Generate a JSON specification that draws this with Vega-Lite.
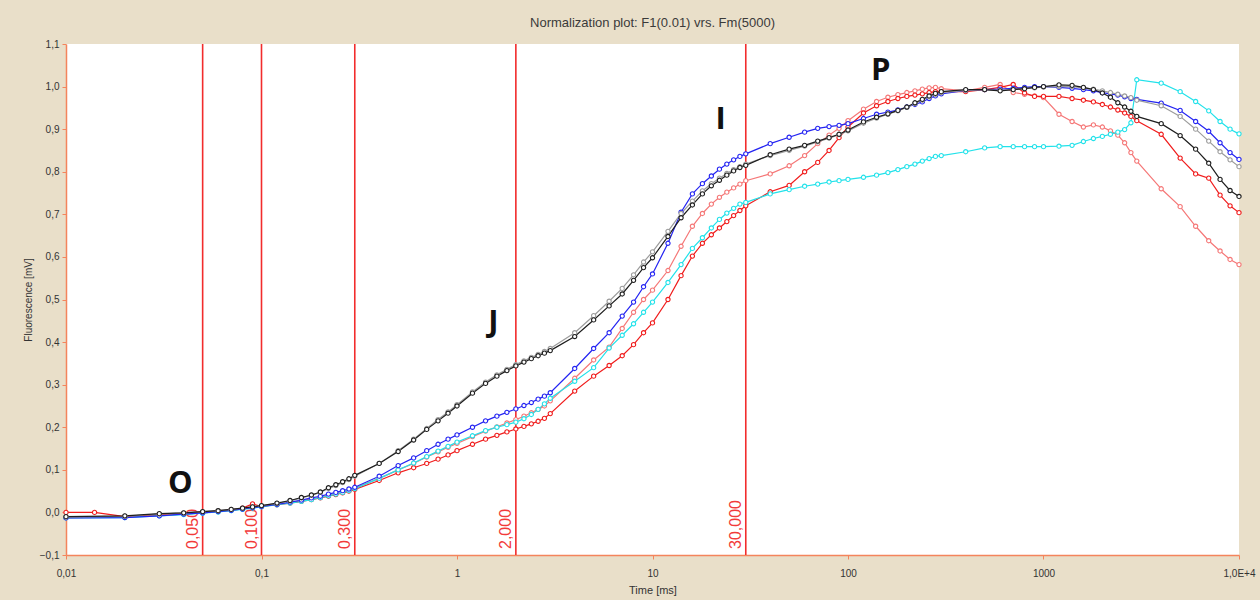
{
  "$schema": "https://vega.github.io/schema/vega-lite/v6.json",
  "width": 1173,
  "height": 511,
  "autosize": {"type": "none"},
  "padding": {"left": 66, "top": 44, "right": 21, "bottom": 45},
  "background": "#E9DFC9",
  "config": {
    "view": {"fill": "white", "stroke": null},
    "font": "Liberation Sans"
  },
  "title": {
    "text": "Normalization plot: F1(0.01) vrs. Fm(5000)",
    "fontSize": 13,
    "fontWeight": "normal",
    "color": "#3a3a3a",
    "offset": 9,
    "anchor": "middle"
  },
  "datasets": {
    "curves": [
{"id":"s","t":0.01,"v":-0.012},{"id":"s","t":0.02,"v":-0.011},{"id":"s","t":0.03,"v":-0.007},{"id":"s","t":0.04,"v":-0.004},{"id":"s","t":0.05,"v":-0.001},{"id":"s","t":0.06,"v":0.002},{"id":"s","t":0.07,"v":0.005},{"id":"s","t":0.08,"v":0.008},{"id":"s","t":0.09,"v":0.011},{"id":"s","t":0.1,"v":0.014},{"id":"s","t":0.12,"v":0.019},{"id":"s","t":0.14,"v":0.023},{"id":"s","t":0.16,"v":0.027},{"id":"s","t":0.18,"v":0.031},{"id":"s","t":0.2,"v":0.036},{"id":"s","t":0.22,"v":0.04},{"id":"s","t":0.24,"v":0.044},{"id":"s","t":0.26,"v":0.048},{"id":"s","t":0.28,"v":0.052},{"id":"s","t":0.3,"v":0.057},
{"id":"s","t":0.4,"v":0.08},{"id":"s","t":0.5,"v":0.1},{"id":"s","t":0.6,"v":0.115},{"id":"s","t":0.7,"v":0.13},{"id":"s","t":0.8,"v":0.142},{"id":"s","t":0.9,"v":0.153},{"id":"s","t":1,"v":0.162},{"id":"s","t":1.2,"v":0.178},{"id":"s","t":1.4,"v":0.191},{"id":"s","t":1.6,"v":0.201},{"id":"s","t":1.8,"v":0.21},{"id":"s","t":2,"v":0.218},{"id":"s","t":2.2,"v":0.226},{"id":"s","t":2.4,"v":0.234},{"id":"s","t":2.6,"v":0.242},{"id":"s","t":2.8,"v":0.25},{"id":"s","t":3,"v":0.262},
{"id":"s","t":4,"v":0.315},{"id":"s","t":5,"v":0.358},{"id":"s","t":6,"v":0.388},{"id":"s","t":7,"v":0.432},{"id":"s","t":8,"v":0.47},{"id":"s","t":9,"v":0.5},{"id":"s","t":10,"v":0.522},{"id":"s","t":12,"v":0.568},{"id":"s","t":14,"v":0.625},{"id":"s","t":16,"v":0.672},{"id":"s","t":18,"v":0.702},{"id":"s","t":20,"v":0.724},{"id":"s","t":22,"v":0.74},{"id":"s","t":24,"v":0.752},{"id":"s","t":26,"v":0.762},{"id":"s","t":28,"v":0.771},{"id":"s","t":30,"v":0.779},
{"id":"s","t":40,"v":0.795},{"id":"s","t":50,"v":0.814},{"id":"s","t":60,"v":0.838},{"id":"s","t":70,"v":0.866},{"id":"s","t":80,"v":0.886},{"id":"s","t":90,"v":0.902},{"id":"s","t":100,"v":0.92},{"id":"s","t":120,"v":0.947},{"id":"s","t":140,"v":0.965},{"id":"s","t":160,"v":0.975},{"id":"s","t":180,"v":0.981},{"id":"s","t":200,"v":0.986},{"id":"s","t":220,"v":0.99},{"id":"s","t":240,"v":0.994},{"id":"s","t":260,"v":0.997},{"id":"s","t":280,"v":0.998},{"id":"s","t":300,"v":0.995},
{"id":"s","t":400,"v":0.99},{"id":"s","t":500,"v":0.998},{"id":"s","t":600,"v":1.005},{"id":"s","t":700,"v":0.986},{"id":"s","t":800,"v":0.982},{"id":"s","t":900,"v":0.978},{"id":"s","t":1000,"v":0.974},{"id":"s","t":1200,"v":0.935},{"id":"s","t":1400,"v":0.918},{"id":"s","t":1600,"v":0.905},{"id":"s","t":1800,"v":0.91},{"id":"s","t":2000,"v":0.905},{"id":"s","t":2200,"v":0.896},{"id":"s","t":2400,"v":0.886},{"id":"s","t":2600,"v":0.868},{"id":"s","t":2800,"v":0.845},{"id":"s","t":3000,"v":0.825},
{"id":"s","t":4000,"v":0.76},{"id":"s","t":5000,"v":0.718},{"id":"s","t":6000,"v":0.672},{"id":"s","t":7000,"v":0.638},{"id":"s","t":8000,"v":0.614},{"id":"s","t":9000,"v":0.594},{"id":"s","t":10000,"v":0.582},

{"id":"r","t":0.01,"v":0.0},{"id":"r","t":0.014,"v":0.0},{"id":"r","t":0.02,"v":-0.01},{"id":"r","t":0.03,"v":-0.006},{"id":"r","t":0.04,"v":-0.003},{"id":"r","t":0.05,"v":0.0},{"id":"r","t":0.06,"v":0.003},{"id":"r","t":0.07,"v":0.006},{"id":"r","t":0.08,"v":0.01},{"id":"r","t":0.09,"v":0.02},{"id":"r","t":0.1,"v":0.014},{"id":"r","t":0.12,"v":0.018},{"id":"r","t":0.14,"v":0.022},{"id":"r","t":0.16,"v":0.026},{"id":"r","t":0.18,"v":0.03},{"id":"r","t":0.2,"v":0.034},{"id":"r","t":0.22,"v":0.038},{"id":"r","t":0.24,"v":0.042},{"id":"r","t":0.26,"v":0.046},{"id":"r","t":0.28,"v":0.05},{"id":"r","t":0.3,"v":0.054},
{"id":"r","t":0.4,"v":0.075},{"id":"r","t":0.5,"v":0.093},{"id":"r","t":0.6,"v":0.105},{"id":"r","t":0.7,"v":0.115},{"id":"r","t":0.8,"v":0.125},{"id":"r","t":0.9,"v":0.135},{"id":"r","t":1,"v":0.145},{"id":"r","t":1.2,"v":0.16},{"id":"r","t":1.4,"v":0.172},{"id":"r","t":1.6,"v":0.181},{"id":"r","t":1.8,"v":0.189},{"id":"r","t":2,"v":0.196},{"id":"r","t":2.2,"v":0.202},{"id":"r","t":2.4,"v":0.208},{"id":"r","t":2.6,"v":0.214},{"id":"r","t":2.8,"v":0.221},{"id":"r","t":3,"v":0.232},
{"id":"r","t":4,"v":0.285},{"id":"r","t":5,"v":0.32},{"id":"r","t":6,"v":0.345},{"id":"r","t":7,"v":0.368},{"id":"r","t":8,"v":0.394},{"id":"r","t":9,"v":0.422},{"id":"r","t":10,"v":0.445},{"id":"r","t":12,"v":0.5},{"id":"r","t":14,"v":0.556},{"id":"r","t":16,"v":0.602},{"id":"r","t":18,"v":0.632},{"id":"r","t":20,"v":0.652},{"id":"r","t":22,"v":0.668},{"id":"r","t":24,"v":0.683},{"id":"r","t":26,"v":0.697},{"id":"r","t":28,"v":0.709},{"id":"r","t":30,"v":0.72},
{"id":"r","t":40,"v":0.753},{"id":"r","t":50,"v":0.768},{"id":"r","t":60,"v":0.8},{"id":"r","t":70,"v":0.822},{"id":"r","t":80,"v":0.85},{"id":"r","t":90,"v":0.88},{"id":"r","t":100,"v":0.905},{"id":"r","t":120,"v":0.938},{"id":"r","t":140,"v":0.955},{"id":"r","t":160,"v":0.965},{"id":"r","t":180,"v":0.972},{"id":"r","t":200,"v":0.977},{"id":"r","t":220,"v":0.98},{"id":"r","t":240,"v":0.983},{"id":"r","t":260,"v":0.986},{"id":"r","t":280,"v":0.988},{"id":"r","t":300,"v":0.988},
{"id":"r","t":400,"v":0.988},{"id":"r","t":500,"v":0.993},{"id":"r","t":600,"v":0.998},{"id":"r","t":700,"v":1.005},{"id":"r","t":800,"v":0.985},{"id":"r","t":900,"v":0.977},{"id":"r","t":1000,"v":0.977},{"id":"r","t":1200,"v":0.977},{"id":"r","t":1400,"v":0.972},{"id":"r","t":1600,"v":0.968},{"id":"r","t":1800,"v":0.964},{"id":"r","t":2000,"v":0.958},{"id":"r","t":2200,"v":0.952},{"id":"r","t":2400,"v":0.945},{"id":"r","t":2600,"v":0.938},{"id":"r","t":2800,"v":0.93},{"id":"r","t":3000,"v":0.92},
{"id":"r","t":4000,"v":0.888},{"id":"r","t":5000,"v":0.832},{"id":"r","t":6000,"v":0.795},{"id":"r","t":7000,"v":0.785},{"id":"r","t":8000,"v":0.745},{"id":"r","t":9000,"v":0.72},{"id":"r","t":10000,"v":0.704},

{"id":"c","t":0.01,"v":-0.013},{"id":"c","t":0.02,"v":-0.012},{"id":"c","t":0.03,"v":-0.008},{"id":"c","t":0.04,"v":-0.005},{"id":"c","t":0.05,"v":-0.002},{"id":"c","t":0.06,"v":0.001},{"id":"c","t":0.07,"v":0.004},{"id":"c","t":0.08,"v":0.007},{"id":"c","t":0.09,"v":0.01},{"id":"c","t":0.1,"v":0.013},{"id":"c","t":0.12,"v":0.018},{"id":"c","t":0.14,"v":0.022},{"id":"c","t":0.16,"v":0.026},{"id":"c","t":0.18,"v":0.03},{"id":"c","t":0.2,"v":0.035},{"id":"c","t":0.22,"v":0.039},{"id":"c","t":0.24,"v":0.043},{"id":"c","t":0.26,"v":0.047},{"id":"c","t":0.28,"v":0.051},{"id":"c","t":0.3,"v":0.056},
{"id":"c","t":0.4,"v":0.08},{"id":"c","t":0.5,"v":0.1},{"id":"c","t":0.6,"v":0.116},{"id":"c","t":0.7,"v":0.131},{"id":"c","t":0.8,"v":0.144},{"id":"c","t":0.9,"v":0.155},{"id":"c","t":1,"v":0.165},{"id":"c","t":1.2,"v":0.18},{"id":"c","t":1.4,"v":0.192},{"id":"c","t":1.6,"v":0.2},{"id":"c","t":1.8,"v":0.206},{"id":"c","t":2,"v":0.212},{"id":"c","t":2.2,"v":0.22},{"id":"c","t":2.4,"v":0.23},{"id":"c","t":2.6,"v":0.242},{"id":"c","t":2.8,"v":0.255},{"id":"c","t":3,"v":0.268},
{"id":"c","t":4,"v":0.308},{"id":"c","t":5,"v":0.34},{"id":"c","t":6,"v":0.386},{"id":"c","t":7,"v":0.416},{"id":"c","t":8,"v":0.443},{"id":"c","t":9,"v":0.47},{"id":"c","t":10,"v":0.494},{"id":"c","t":12,"v":0.54},{"id":"c","t":14,"v":0.582},{"id":"c","t":16,"v":0.62},{"id":"c","t":18,"v":0.645},{"id":"c","t":20,"v":0.668},{"id":"c","t":22,"v":0.688},{"id":"c","t":24,"v":0.703},{"id":"c","t":26,"v":0.714},{"id":"c","t":28,"v":0.724},{"id":"c","t":30,"v":0.728},
{"id":"c","t":40,"v":0.748},{"id":"c","t":50,"v":0.758},{"id":"c","t":60,"v":0.766},{"id":"c","t":70,"v":0.771},{"id":"c","t":80,"v":0.776},{"id":"c","t":90,"v":0.779},{"id":"c","t":100,"v":0.782},{"id":"c","t":120,"v":0.787},{"id":"c","t":140,"v":0.792},{"id":"c","t":160,"v":0.798},{"id":"c","t":180,"v":0.805},{"id":"c","t":200,"v":0.812},{"id":"c","t":220,"v":0.818},{"id":"c","t":240,"v":0.825},{"id":"c","t":260,"v":0.831},{"id":"c","t":280,"v":0.836},{"id":"c","t":300,"v":0.838},
{"id":"c","t":400,"v":0.847},{"id":"c","t":500,"v":0.856},{"id":"c","t":600,"v":0.859},{"id":"c","t":700,"v":0.859},{"id":"c","t":800,"v":0.859},{"id":"c","t":900,"v":0.859},{"id":"c","t":1000,"v":0.859},{"id":"c","t":1200,"v":0.86},{"id":"c","t":1400,"v":0.862},{"id":"c","t":1600,"v":0.871},{"id":"c","t":1800,"v":0.878},{"id":"c","t":2000,"v":0.883},{"id":"c","t":2200,"v":0.888},{"id":"c","t":2400,"v":0.893},{"id":"c","t":2600,"v":0.899},{"id":"c","t":2800,"v":0.915},{"id":"c","t":3000,"v":1.016},
{"id":"c","t":4000,"v":1.008},{"id":"c","t":5000,"v":0.988},{"id":"c","t":6000,"v":0.965},{"id":"c","t":7000,"v":0.943},{"id":"c","t":8000,"v":0.918},{"id":"c","t":9000,"v":0.9},{"id":"c","t":10000,"v":0.889},

{"id":"b","t":0.01,"v":-0.013},{"id":"b","t":0.02,"v":-0.012},{"id":"b","t":0.03,"v":-0.008},{"id":"b","t":0.04,"v":-0.004},{"id":"b","t":0.05,"v":-0.001},{"id":"b","t":0.06,"v":0.002},{"id":"b","t":0.07,"v":0.005},{"id":"b","t":0.08,"v":0.008},{"id":"b","t":0.09,"v":0.011},{"id":"b","t":0.1,"v":0.014},{"id":"b","t":0.12,"v":0.019},{"id":"b","t":0.14,"v":0.024},{"id":"b","t":0.16,"v":0.029},{"id":"b","t":0.18,"v":0.034},{"id":"b","t":0.2,"v":0.038},{"id":"b","t":0.22,"v":0.043},{"id":"b","t":0.24,"v":0.047},{"id":"b","t":0.26,"v":0.051},{"id":"b","t":0.28,"v":0.055},{"id":"b","t":0.3,"v":0.059},
{"id":"b","t":0.4,"v":0.085},{"id":"b","t":0.5,"v":0.11},{"id":"b","t":0.6,"v":0.128},{"id":"b","t":0.7,"v":0.145},{"id":"b","t":0.8,"v":0.16},{"id":"b","t":0.9,"v":0.172},{"id":"b","t":1,"v":0.182},{"id":"b","t":1.2,"v":0.2},{"id":"b","t":1.4,"v":0.215},{"id":"b","t":1.6,"v":0.226},{"id":"b","t":1.8,"v":0.235},{"id":"b","t":2,"v":0.243},{"id":"b","t":2.2,"v":0.251},{"id":"b","t":2.4,"v":0.258},{"id":"b","t":2.6,"v":0.266},{"id":"b","t":2.8,"v":0.273},{"id":"b","t":3,"v":0.281},
{"id":"b","t":4,"v":0.338},{"id":"b","t":5,"v":0.385},{"id":"b","t":6,"v":0.422},{"id":"b","t":7,"v":0.461},{"id":"b","t":8,"v":0.494},{"id":"b","t":9,"v":0.53},{"id":"b","t":10,"v":0.56},{"id":"b","t":12,"v":0.632},{"id":"b","t":14,"v":0.705},{"id":"b","t":16,"v":0.748},{"id":"b","t":18,"v":0.772},{"id":"b","t":20,"v":0.79},{"id":"b","t":22,"v":0.806},{"id":"b","t":24,"v":0.818},{"id":"b","t":26,"v":0.828},{"id":"b","t":28,"v":0.836},{"id":"b","t":30,"v":0.842},
{"id":"b","t":40,"v":0.866},{"id":"b","t":50,"v":0.881},{"id":"b","t":60,"v":0.893},{"id":"b","t":70,"v":0.902},{"id":"b","t":80,"v":0.906},{"id":"b","t":90,"v":0.909},{"id":"b","t":100,"v":0.913},{"id":"b","t":120,"v":0.925},{"id":"b","t":140,"v":0.935},{"id":"b","t":160,"v":0.94},{"id":"b","t":180,"v":0.945},{"id":"b","t":200,"v":0.952},{"id":"b","t":220,"v":0.958},{"id":"b","t":240,"v":0.964},{"id":"b","t":260,"v":0.972},{"id":"b","t":280,"v":0.978},{"id":"b","t":300,"v":0.983},
{"id":"b","t":400,"v":0.991},{"id":"b","t":500,"v":0.993},{"id":"b","t":600,"v":0.994},{"id":"b","t":700,"v":0.996},{"id":"b","t":800,"v":0.998},{"id":"b","t":900,"v":1.0},{"id":"b","t":1000,"v":1.0},{"id":"b","t":1200,"v":0.998},{"id":"b","t":1400,"v":0.996},{"id":"b","t":1600,"v":0.993},{"id":"b","t":1800,"v":0.99},{"id":"b","t":2000,"v":0.986},{"id":"b","t":2200,"v":0.983},{"id":"b","t":2400,"v":0.98},{"id":"b","t":2600,"v":0.976},{"id":"b","t":2800,"v":0.972},{"id":"b","t":3000,"v":0.97},
{"id":"b","t":4000,"v":0.961},{"id":"b","t":5000,"v":0.944},{"id":"b","t":6000,"v":0.918},{"id":"b","t":7000,"v":0.895},{"id":"b","t":8000,"v":0.868},{"id":"b","t":9000,"v":0.845},{"id":"b","t":10000,"v":0.829},

{"id":"g","t":0.01,"v":-0.011},{"id":"g","t":0.02,"v":-0.009},{"id":"g","t":0.03,"v":-0.004},{"id":"g","t":0.04,"v":-0.001},{"id":"g","t":0.05,"v":0.002},{"id":"g","t":0.06,"v":0.004},{"id":"g","t":0.07,"v":0.007},{"id":"g","t":0.08,"v":0.01},{"id":"g","t":0.09,"v":0.013},{"id":"g","t":0.1,"v":0.016},{"id":"g","t":0.12,"v":0.021},{"id":"g","t":0.14,"v":0.027},{"id":"g","t":0.16,"v":0.034},{"id":"g","t":0.18,"v":0.04},{"id":"g","t":0.2,"v":0.047},{"id":"g","t":0.22,"v":0.056},{"id":"g","t":0.24,"v":0.063},{"id":"g","t":0.26,"v":0.07},{"id":"g","t":0.28,"v":0.077},{"id":"g","t":0.3,"v":0.085},
{"id":"g","t":0.4,"v":0.115},{"id":"g","t":0.5,"v":0.145},{"id":"g","t":0.6,"v":0.172},{"id":"g","t":0.7,"v":0.197},{"id":"g","t":0.8,"v":0.218},{"id":"g","t":0.9,"v":0.236},{"id":"g","t":1,"v":0.253},{"id":"g","t":1.2,"v":0.283},{"id":"g","t":1.4,"v":0.306},{"id":"g","t":1.6,"v":0.323},{"id":"g","t":1.8,"v":0.336},{"id":"g","t":2,"v":0.347},{"id":"g","t":2.2,"v":0.356},{"id":"g","t":2.4,"v":0.364},{"id":"g","t":2.6,"v":0.371},{"id":"g","t":2.8,"v":0.378},{"id":"g","t":3,"v":0.385},
{"id":"g","t":4,"v":0.422},{"id":"g","t":5,"v":0.462},{"id":"g","t":6,"v":0.496},{"id":"g","t":7,"v":0.526},{"id":"g","t":8,"v":0.558},{"id":"g","t":9,"v":0.588},{"id":"g","t":10,"v":0.612},{"id":"g","t":12,"v":0.66},{"id":"g","t":14,"v":0.702},{"id":"g","t":16,"v":0.731},{"id":"g","t":18,"v":0.755},{"id":"g","t":20,"v":0.772},{"id":"g","t":22,"v":0.785},{"id":"g","t":24,"v":0.796},{"id":"g","t":26,"v":0.805},{"id":"g","t":28,"v":0.812},{"id":"g","t":30,"v":0.818},
{"id":"g","t":40,"v":0.838},{"id":"g","t":50,"v":0.85},{"id":"g","t":60,"v":0.86},{"id":"g","t":70,"v":0.87},{"id":"g","t":80,"v":0.879},{"id":"g","t":90,"v":0.887},{"id":"g","t":100,"v":0.896},{"id":"g","t":120,"v":0.914},{"id":"g","t":140,"v":0.926},{"id":"g","t":160,"v":0.935},{"id":"g","t":180,"v":0.943},{"id":"g","t":200,"v":0.951},{"id":"g","t":220,"v":0.96},{"id":"g","t":240,"v":0.968},{"id":"g","t":260,"v":0.976},{"id":"g","t":280,"v":0.982},{"id":"g","t":300,"v":0.986},
{"id":"g","t":400,"v":0.991},{"id":"g","t":500,"v":0.993},{"id":"g","t":600,"v":0.991},{"id":"g","t":700,"v":0.993},{"id":"g","t":800,"v":0.995},{"id":"g","t":900,"v":0.997},{"id":"g","t":1000,"v":0.999},{"id":"g","t":1200,"v":1.0},{"id":"g","t":1400,"v":1.0},{"id":"g","t":1600,"v":0.997},{"id":"g","t":1800,"v":0.994},{"id":"g","t":2000,"v":0.99},{"id":"g","t":2200,"v":0.986},{"id":"g","t":2400,"v":0.982},{"id":"g","t":2600,"v":0.978},{"id":"g","t":2800,"v":0.974},{"id":"g","t":3000,"v":0.968},
{"id":"g","t":4000,"v":0.955},{"id":"g","t":5000,"v":0.93},{"id":"g","t":6000,"v":0.9},{"id":"g","t":7000,"v":0.872},{"id":"g","t":8000,"v":0.847},{"id":"g","t":9000,"v":0.828},{"id":"g","t":10000,"v":0.812},

{"id":"k","t":0.01,"v":-0.01},{"id":"k","t":0.02,"v":-0.008},{"id":"k","t":0.03,"v":-0.003},{"id":"k","t":0.04,"v":-0.001},{"id":"k","t":0.05,"v":0.002},{"id":"k","t":0.06,"v":0.004},{"id":"k","t":0.07,"v":0.007},{"id":"k","t":0.08,"v":0.01},{"id":"k","t":0.09,"v":0.013},{"id":"k","t":0.1,"v":0.016},{"id":"k","t":0.12,"v":0.022},{"id":"k","t":0.14,"v":0.028},{"id":"k","t":0.16,"v":0.035},{"id":"k","t":0.18,"v":0.041},{"id":"k","t":0.2,"v":0.048},{"id":"k","t":0.22,"v":0.058},{"id":"k","t":0.24,"v":0.065},{"id":"k","t":0.26,"v":0.072},{"id":"k","t":0.28,"v":0.079},{"id":"k","t":0.3,"v":0.087},
{"id":"k","t":0.4,"v":0.115},{"id":"k","t":0.5,"v":0.143},{"id":"k","t":0.6,"v":0.17},{"id":"k","t":0.7,"v":0.195},{"id":"k","t":0.8,"v":0.215},{"id":"k","t":0.9,"v":0.233},{"id":"k","t":1,"v":0.25},{"id":"k","t":1.2,"v":0.28},{"id":"k","t":1.4,"v":0.303},{"id":"k","t":1.6,"v":0.32},{"id":"k","t":1.8,"v":0.333},{"id":"k","t":2,"v":0.344},{"id":"k","t":2.2,"v":0.353},{"id":"k","t":2.4,"v":0.361},{"id":"k","t":2.6,"v":0.368},{"id":"k","t":2.8,"v":0.374},{"id":"k","t":3,"v":0.38},
{"id":"k","t":4,"v":0.413},{"id":"k","t":5,"v":0.452},{"id":"k","t":6,"v":0.485},{"id":"k","t":7,"v":0.513},{"id":"k","t":8,"v":0.545},{"id":"k","t":9,"v":0.575},{"id":"k","t":10,"v":0.598},{"id":"k","t":12,"v":0.648},{"id":"k","t":14,"v":0.692},{"id":"k","t":16,"v":0.722},{"id":"k","t":18,"v":0.748},{"id":"k","t":20,"v":0.767},{"id":"k","t":22,"v":0.78},{"id":"k","t":24,"v":0.792},{"id":"k","t":26,"v":0.802},{"id":"k","t":28,"v":0.81},{"id":"k","t":30,"v":0.815},
{"id":"k","t":40,"v":0.84},{"id":"k","t":50,"v":0.853},{"id":"k","t":60,"v":0.862},{"id":"k","t":70,"v":0.872},{"id":"k","t":80,"v":0.88},{"id":"k","t":90,"v":0.888},{"id":"k","t":100,"v":0.898},{"id":"k","t":120,"v":0.917},{"id":"k","t":140,"v":0.928},{"id":"k","t":160,"v":0.936},{"id":"k","t":180,"v":0.944},{"id":"k","t":200,"v":0.952},{"id":"k","t":220,"v":0.962},{"id":"k","t":240,"v":0.97},{"id":"k","t":260,"v":0.978},{"id":"k","t":280,"v":0.984},{"id":"k","t":300,"v":0.988},
{"id":"k","t":400,"v":0.993},{"id":"k","t":500,"v":0.993},{"id":"k","t":600,"v":0.99},{"id":"k","t":700,"v":0.993},{"id":"k","t":800,"v":0.995},{"id":"k","t":900,"v":0.998},{"id":"k","t":1000,"v":1.0},{"id":"k","t":1200,"v":1.004},{"id":"k","t":1400,"v":1.003},{"id":"k","t":1600,"v":0.998},{"id":"k","t":1800,"v":0.993},{"id":"k","t":2000,"v":0.985},{"id":"k","t":2200,"v":0.975},{"id":"k","t":2400,"v":0.962},{"id":"k","t":2600,"v":0.952},{"id":"k","t":2800,"v":0.942},{"id":"k","t":3000,"v":0.93},
{"id":"k","t":4000,"v":0.913},{"id":"k","t":5000,"v":0.885},{"id":"k","t":6000,"v":0.853},{"id":"k","t":7000,"v":0.82},{"id":"k","t":8000,"v":0.782},{"id":"k","t":9000,"v":0.756},{"id":"k","t":10000,"v":0.742}
    ],
    "marks": [
      {"t": 0.05, "lab": "0,050"},
      {"t": 0.1, "lab": "0,100"},
      {"t": 0.3, "lab": "0,300"},
      {"t": 2, "lab": "2,000"},
      {"t": 30, "lab": "30,000"}
    ],
    "phases": [
      {"t": 0.0384, "v": 0.045, "txt": "O"},
      {"t": 1.536, "v": 0.423, "txt": "J"},
      {"t": 22.3, "v": 0.901, "txt": "I"},
      {"t": 147, "v": 1.016, "txt": "P"}
    ]
  },
  "layer": [
    {
      "data": {"name": "marks"},
      "mark": {"type": "rule", "color": "#F22C2C", "strokeWidth": 1.6},
      "encoding": {
        "x": {
          "field": "t", "type": "quantitative",
          "scale": {"type": "log", "domain": [0.01, 10000], "nice": false},
          "axis": {
            "title": "Time [ms]",
            "values": [0.01, 0.1, 1, 10, 100, 1000, 10000],
            "labelExpr": "datum.value == 0.01 ? '0,01' : datum.value == 0.1 ? '0,1' : datum.value == 10000 ? '1,0E+4' : format(datum.value, 'd')",
            "grid": false,
            "domainColor": "#F4845C",
            "domainWidth": 1.5,
            "tickColor": "#F4845C",
            "tickSize": 4,
            "labelFontSize": 10,
            "labelColor": "#333333",
            "labelPadding": 9,
            "labelFlush": false,
            "labelOverlap": false,
            "titleFontSize": 11,
            "titleFontWeight": "normal",
            "titleColor": "#333333",
            "titlePadding": 6
          }
        }
      }
    },
    {
      "data": {"name": "marks"},
      "mark": {"type": "text", "angle": 270, "align": "left", "baseline": "bottom", "dx": 6, "dy": -2, "fontSize": 16, "color": "#F23A3A", "font": "Liberation Sans"},
      "encoding": {
        "x": {"field": "t", "type": "quantitative"},
        "y": {"datum": -0.1},
        "text": {"field": "lab"}
      }
    },
    {
      "data": {"name": "curves"},
      "mark": {"type": "line", "strokeWidth": 1.2, "point": {"filled": false, "fill": "white", "size": 18, "strokeWidth": 1.1}},
      "encoding": {
        "x": {"field": "t", "type": "quantitative"},
        "y": {
          "field": "v", "type": "quantitative",
          "scale": {"domain": [-0.1, 1.1], "nice": false, "zero": false},
          "axis": {
            "title": "Fluorescence [mV]",
            "values": [-0.1, 0, 0.1, 0.2, 0.3, 0.4, 0.5, 0.6, 0.7, 0.8, 0.9, 1.0, 1.1],
            "labelExpr": "replace(format(datum.value, '.1f'), '.', ',')",
            "grid": false,
            "domainColor": "#F4845C",
            "domainWidth": 1.5,
            "tickColor": "#F4845C",
            "tickSize": 4,
            "labelFontSize": 10,
            "labelColor": "#333333",
            "labelPadding": 3,
            "titleFontSize": 10,
            "titleFontWeight": "normal",
            "titleColor": "#333333",
            "titlePadding": 6
          }
        },
        "color": {
          "field": "id", "type": "nominal",
          "scale": {"domain": ["s", "r", "c", "b", "g", "k"], "range": ["#F57777", "#F01C1C", "#22E2EA", "#2424F2", "#9C9C9C", "#1E1E1E"]},
          "legend": null
        }
      }
    },
    {
      "data": {"name": "phases"},
      "mark": {"type": "text", "font": "Open Sans", "fontWeight": "bold", "fontSize": 31, "align": "center", "baseline": "alphabetic", "color": "#111111"},
      "encoding": {
        "x": {"field": "t", "type": "quantitative"},
        "y": {"field": "v", "type": "quantitative"},
        "text": {"field": "txt"}
      }
    }
  ]
}
